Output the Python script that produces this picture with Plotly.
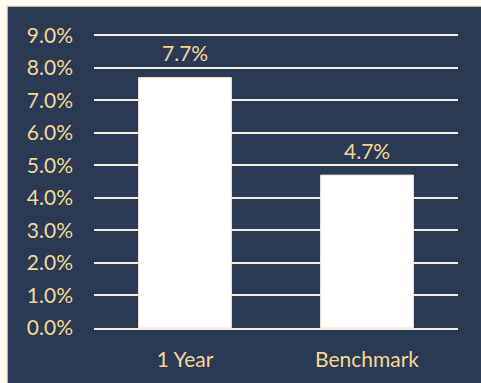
import plotly.graph_objects as go

# Return comparison data
categories = ["1 Year", "Benchmark"]
returns = [0.077, 0.047]
y_ticks = [0.0, 0.01, 0.02, 0.03, 0.04, 0.05, 0.06, 0.07, 0.08, 0.09]

NAVY = "#2B3A54"
GOLD = "#F3D895"
CREAM = "#F4ECDA"
FONT = "Lato, Carlito, Calibri, sans-serif"
FS = 21

W, H = 481, 383
L, R, T, B = 94, 23, 32, 55
pw, ph = W - L - R, H - T - B


def px_x(p):
    return (p - L) / pw


def px_y(p):
    return (H - B - p) / ph


fig = go.Figure(
    go.Bar(
        x=categories,
        y=returns,
        marker=dict(color="white", line=dict(color="#EFE6D4", width=1)),
    )
)

# Value labels above each bar
for cat, val in zip(categories, returns):
    fig.add_annotation(
        x=cat, y=val, text=f"{val * 100:.1f}%", showarrow=False,
        yanchor="middle", yshift=25,
        font=dict(color=GOLD, size=FS, family=FONT),
    )

# Dark panel with a thin cream frame on the top and left
fig.add_shape(
    type="rect", xref="paper", yref="paper", layer="below",
    x0=px_x(7), x1=px_x(W + 5), y0=px_y(H + 5), y1=px_y(6),
    fillcolor=NAVY, line=dict(color="#F6E7CF", width=1.5),
)

fig.update_layout(
    width=W,
    height=H,
    margin=dict(l=L, r=R, t=T, b=B),
    paper_bgcolor="#FFFCF6",
    plot_bgcolor=NAVY,
    bargap=0.49,
    showlegend=False,
    font=dict(family=FONT, color=GOLD, size=FS),
)
fig.update_yaxes(
    range=[0, 0.091],
    tickvals=y_ticks,
    tickformat=".1%",
    showgrid=True,
    gridcolor=CREAM,
    gridwidth=2,
    zeroline=False,
    showline=False,
    ticks="",
    ticklabelstandoff=20,
    tickfont=dict(size=FS, color=GOLD, family=FONT),
)
fig.update_xaxes(
    showgrid=False,
    showline=True,
    linecolor=CREAM,
    linewidth=2,
    ticks="",
    ticklabelstandoff=12,
    tickfont=dict(size=FS, color=GOLD, family=FONT),
)

fig.write_html("out.html")
